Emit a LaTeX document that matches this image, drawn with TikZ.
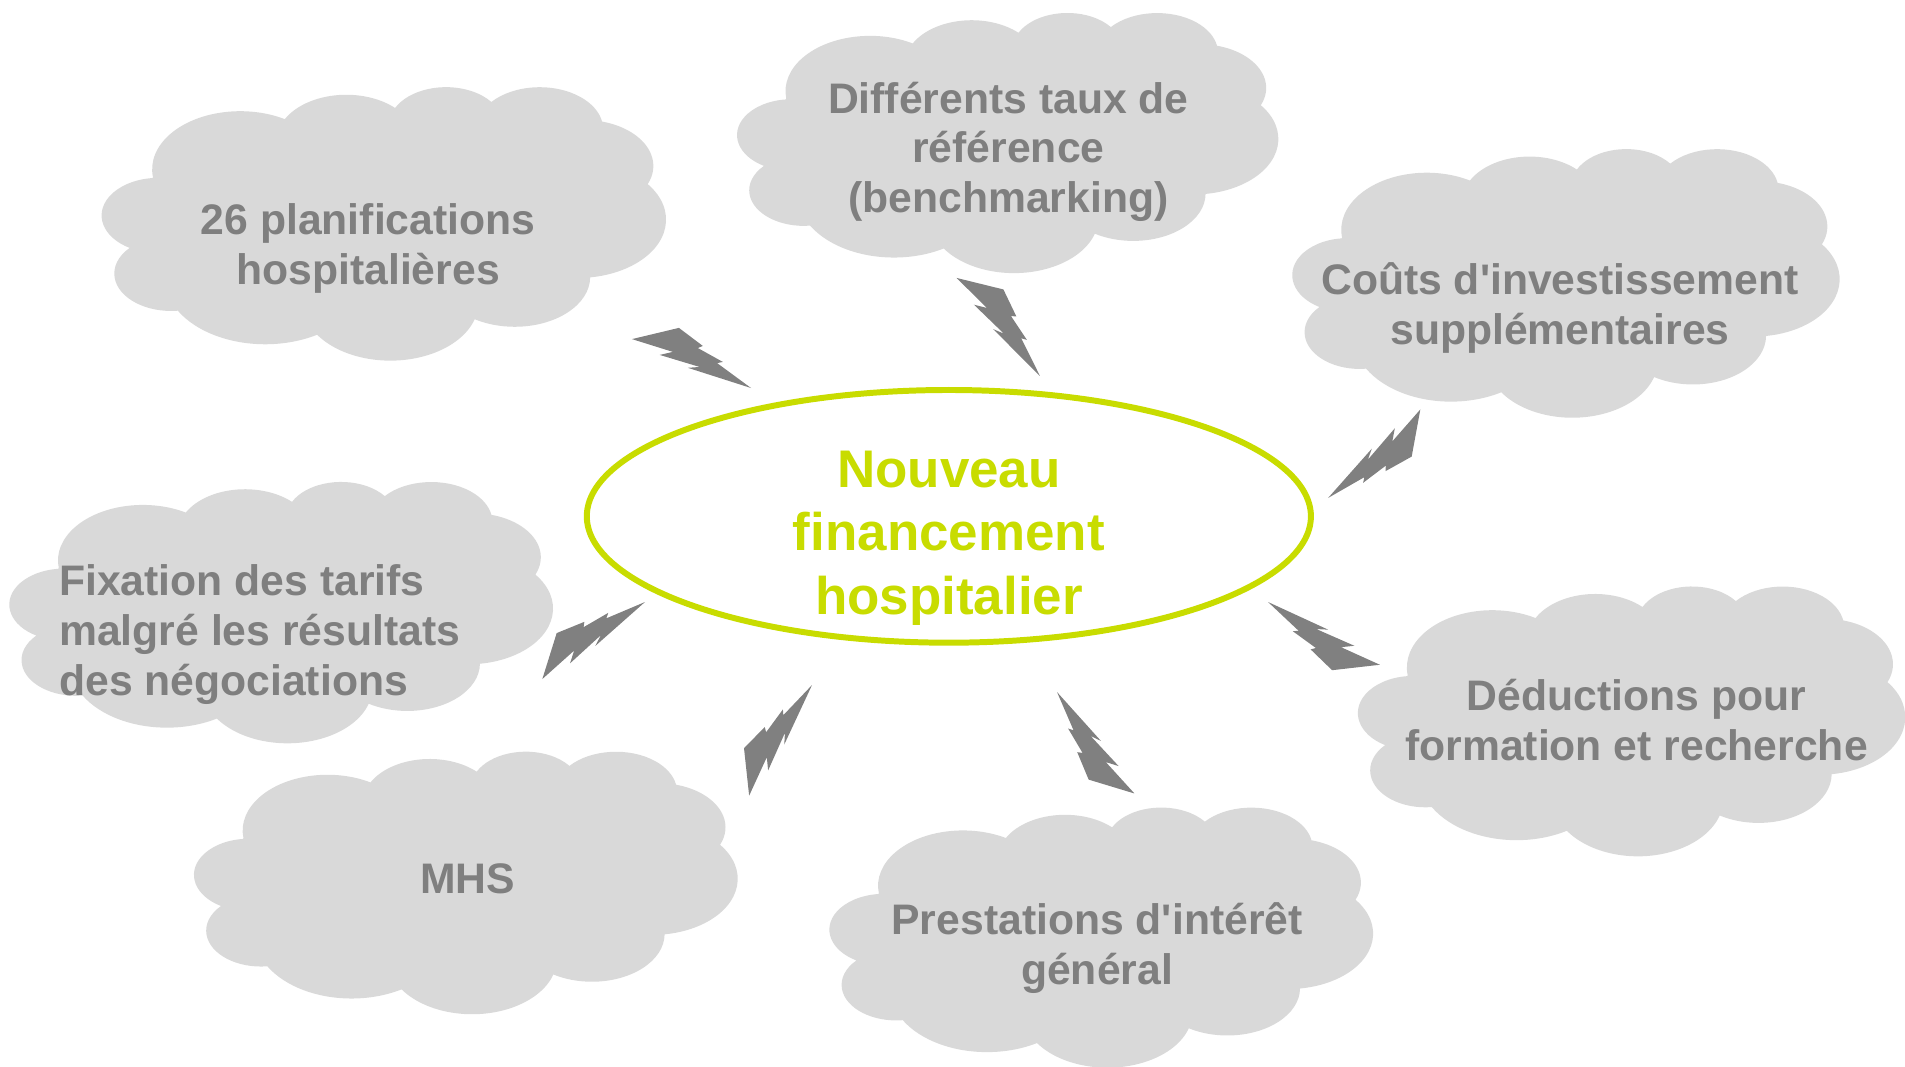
\documentclass[tikz,border=0pt]{standalone}
\usepackage{fontspec}
\setmainfont{Liberation Sans}
\usetikzlibrary{calc,shapes.geometric}

\definecolor{cloudfill}{HTML}{D9D9D9}
\definecolor{cloudink}{HTML}{7F7F7F}
\definecolor{zapfill}{HTML}{808080}
\definecolor{hubgreen}{HTML}{C8DC00}

\tikzset{
    puff/.pic={
        \fill[cloudfill, yscale=-1] (0.0903,0.3326)
            \foreach \ra/\rb/\sa/\da in {0.15632/0.21273/172.255/128.105, 0.12345/0.16822/-152.02/106.57,
                0.10104/0.13762/-153.49/116.18, 0.11243/0.15266/-139.70/129.49, 0.12345/0.16836/-74.77/97.98,
                0.15683/0.21343/-37.54/119.40, 0.13391/0.18211/0.46/121.52, 0.15630/0.21331/16.84/129.40,
                0.17870/0.24405/58.99/91.21, 0.10093/0.13699/83.31/139.81, 0.10058/0.13762/120.35/143.76}
            {arc[x radius=\ra, y radius=\rb, start angle=\sa, delta angle=\da]}
            -- cycle;
    },
    bolt/.pic={
        \fill[zapfill] (-0.16,-0.15) -- (0.16,0.15) -- (0.43,0.115) -- (0.40,0.076) -- (0.66,0.079)
            -- (0.62,0.044) -- (1,0) -- (0.41,-0.125) -- (0.50,-0.065) -- (0.13,-0.15) -- (0.22,-0.067) -- cycle;
    },
    cloudtext/.style={text=cloudink, font=\fontsize{10}{11.7}\selectfont\bfseries, align=center, inner sep=0pt},
    hub/.style={ellipse, draw=hubgreen, line width=1.4pt, minimum width=5.96cm, minimum height=2.08cm, inner sep=0pt},
    hubtext/.style={text=hubgreen, font=\fontsize{12.4}{14.9}\selectfont\bfseries, align=center, inner sep=0pt}
}

\newcommand{\zap}[2]{%
    \path let \p1=($(#2)-(#1)$) in (#1)
        pic[rotate={atan2(\y1,\x1)}, scale={veclen(\x1,\y1)/28.4528}] {bolt};%
}

\begin{document}
\begin{tikzpicture}
        \useasboundingbox (0,0) rectangle (15.68,-8.78);

        \pic[xscale=4.64, yscale=2.25] at (0.84,-0.71) {puff};
        \pic[xscale=4.45, yscale=2.14] at (6.07,-0.10) {puff};
        \pic[xscale=4.50, yscale=2.21] at (10.64,-1.22) {puff};
        \pic[xscale=4.47, yscale=2.15] at (0.08,-3.96) {puff};
        \pic[xscale=4.47, yscale=2.16] at (1.60,-6.18) {puff};
        \pic[xscale=4.47, yscale=2.14] at (6.83,-6.64) {puff};
        \pic[xscale=4.50, yscale=2.22] at (11.18,-4.82) {puff};

        \node[cloudtext] (t1) at (3.03,-2.042) {26 planifications\\hospitalières};
        \node[cloudtext] (t2) at (8.30,-1.25) {Différents taux de\\référence\\(benchmarking)};
        \node[cloudtext] (t3) at (12.84,-2.532) {Coûts d\textquotesingle investissement\\supplémentaires};
        \node[cloudtext, align=left, anchor=west] (t4) at (0.48,-5.22) {Fixation des tarifs\\malgré les résultats\\des négociations};
        \node[cloudtext] (t5) at (3.85,-7.23) {MHS};
        \node[cloudtext] (t6) at (9.03,-7.802) {Prestations d\textquotesingle intérêt\\général};
        \node[cloudtext] (t7) at (13.47,-5.929) {Déductions pour\\formation et recherche};

        \node[hub] (hub) at (7.81,-4.25) {};
        \node[hubtext] (title) at (7.81,-4.43) {Nouveau\\financement\\hospitalier};

        \coordinate (S1) at (5.395,-2.745);
        \coordinate (E1) at (6.182,-3.194);
        \coordinate (S2) at (8.066,-2.335);
        \coordinate (E2) at (8.560,-3.095);
        \coordinate (S3) at (11.655,-3.564);
        \coordinate (E3) at (10.931,-4.099);
        \coordinate (S4) at (4.523,-5.400);
        \coordinate (E4) at (5.309,-4.955);
        \coordinate (S5) at (6.145,-6.354);
        \coordinate (E5) at (6.684,-5.638);
        \coordinate (S6) at (9.149,-6.474);
        \coordinate (E6) at (8.700,-5.696);
        \coordinate (S7) at (11.161,-5.494);
        \coordinate (E7) at (10.437,-4.955);

        \zap{S1}{E1}
        \zap{S2}{E2}
        \zap{S3}{E3}
        \zap{S4}{E4}
        \zap{S5}{E5}
        \zap{S6}{E6}
        \zap{S7}{E7}
\end{tikzpicture}
\end{document}
